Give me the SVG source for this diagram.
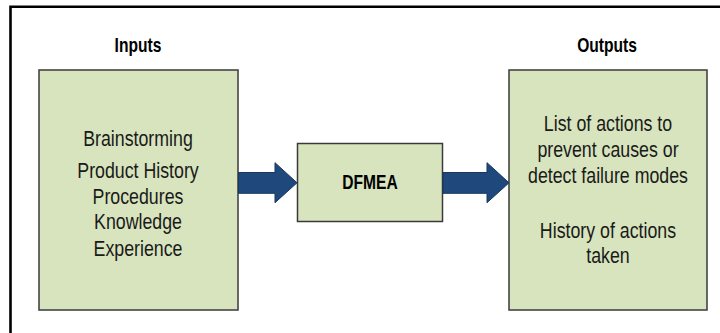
<svg xmlns="http://www.w3.org/2000/svg" width="720" height="333" viewBox="0 0 720 333">
<style>
.box{fill:#D7E4BD;stroke:#3a3a3a;stroke-width:1.5}
.body{font-family:"Liberation Sans",Arial,sans-serif;font-size:22.5px;fill:#1a1a1a;text-anchor:middle}
.head{font-family:"Liberation Sans",Arial,sans-serif;font-size:20px;font-weight:bold;fill:#000;text-anchor:middle}
.arrow{fill:#1F497D;stroke:#17375E;stroke-width:1}
</style>
<rect x="0" y="0" width="720" height="333" fill="#fff"/>
<path d="M10.5,333 V6.8 H720" fill="none" stroke="#000" stroke-width="2.6"/>
<g id="inputs-label" transform="translate(138,51.5) scale(0.78,1)"><text class="head" x="0" y="0">Inputs</text></g>
<g id="outputs-label" transform="translate(607,51.5) scale(0.78,1)"><text class="head" x="0" y="0">Outputs</text></g>
<g id="inputs">
<rect class="box" x="39" y="70" width="199" height="240"/>
<g transform="translate(138,0) scale(0.79,1)">
<text class="body" x="0" y="146">Brainstorming</text>
<text class="body" x="0" y="178.3">Product History</text>
<text class="body" x="0" y="204">Procedures</text>
<text class="body" x="0" y="229.5">Knowledge</text>
<text class="body" x="0" y="256.5">Experience</text>
</g>
</g>
<g id="dfmea">
<rect class="box" x="297.5" y="143.5" width="145" height="78"/>
<g transform="translate(370,189.3) scale(0.78,1)"><text class="head" x="0" y="0">DFMEA</text></g>
</g>
<g id="outputs">
<rect class="box" x="509" y="70" width="198" height="240"/>
<g transform="translate(608,0) scale(0.79,1)">
<text class="body" x="0" y="131">List of actions to</text>
<text class="body" x="0" y="157">prevent causes or</text>
<text class="body" x="0" y="183.5">detect failure modes</text>
<text class="body" x="0" y="238.5">History of actions</text>
<text class="body" x="0" y="263.5">taken</text>
</g>
</g>
<g id="connectors">
<path class="arrow" d="M238.5,172.5 H275 V162.7 L297,182.8 L275,202.7 V193.3 H238.5 Z"/>
<path class="arrow" d="M443,172.5 H487 V162.7 L509,182.8 L487,202.7 V193.3 H443 Z"/>
</g>
</svg>
